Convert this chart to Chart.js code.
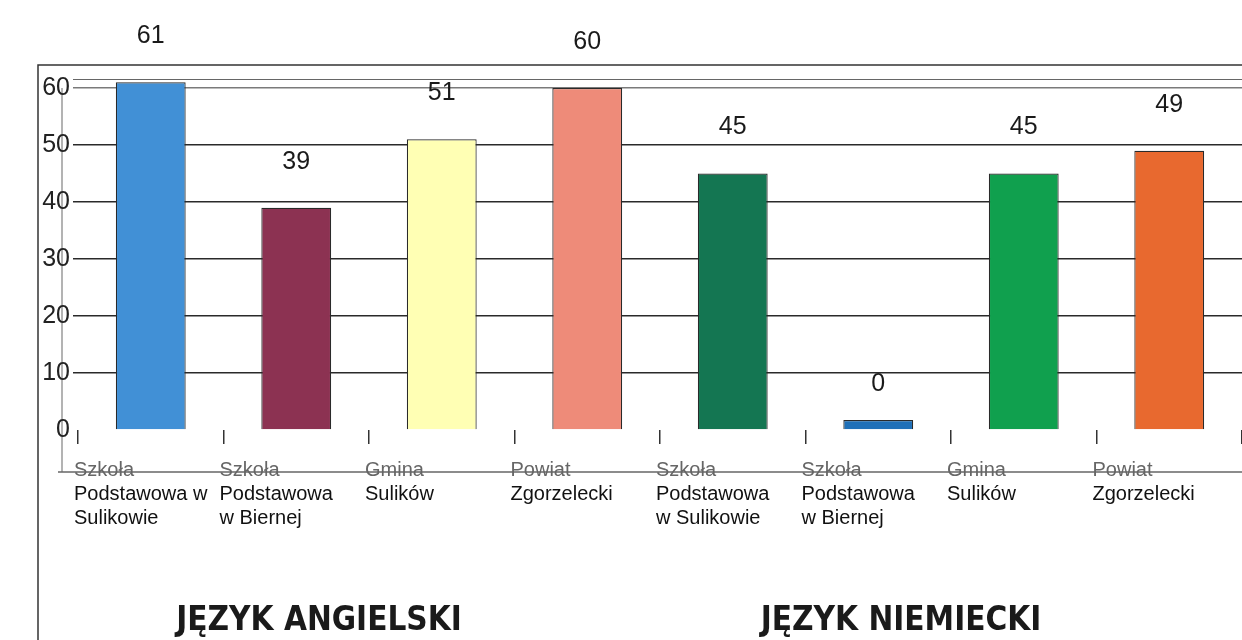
<!DOCTYPE html>
<html>
<head>
<meta charset="utf-8">
<script src="https://cdn.jsdelivr.net/npm/chart.js@4.4.1/dist/chart.umd.min.js"></script>
<style>
  html, body { margin: 0; padding: 0; background: #ffffff; }
  #wrap { width: 1242px; height: 640px; position: relative; }
</style>
</head>
<body>
<div id="wrap"><canvas id="c" width="1242" height="640"></canvas></div>
<script>
// ---- data ----
const categories = [
  ["Szkoła", "Podstawowa w", "Sulikowie"],
  ["Szkoła", "Podstawowa", "w Biernej"],
  ["Gmina", "Sulików"],
  ["Powiat", "Zgorzelecki"],
  ["Szkoła", "Podstawowa", "w Sulikowie"],
  ["Szkoła", "Podstawowa", "w Biernej"],
  ["Gmina", "Sulików"],
  ["Powiat", "Zgorzelecki"]
];
const values = [61, 39, 51, 60, 45, 0, 45, 49];
const groupTitles = ["JĘZYK ANGIELSKI", "JĘZYK NIEMIECKI"];
const groupSizes = [4, 4];
const yTicks = [0, 10, 20, 30, 40, 50, 60];

// ---- styles ----
const barColors = ["#4190d6", "#8c3252", "#ffffb4", "#ee8b79", "#147652", "#1f70b8", "#10a04e", "#e8692f"];

const decoPlugin = {
  id: 'deco',
  beforeDraw(chart) {
    const ctx = chart.ctx;
    const a = chart.chartArea;
    ctx.save();
    // outer frame
    ctx.strokeStyle = '#333';
    ctx.lineWidth = 1.5;
    ctx.beginPath();
    ctx.moveTo(38, 645);
    ctx.lineTo(38, 65);
    ctx.lineTo(1242, 65);
    ctx.stroke();
    // plot top line
    ctx.strokeStyle = '#666';
    ctx.lineWidth = 1.2;
    ctx.beginPath();
    ctx.moveTo(a.left - 5, a.top);
    ctx.lineTo(a.right, a.top);
    ctx.stroke();
    // light vertical axis line through tick labels
    ctx.strokeStyle = '#9a9a9a';
    ctx.lineWidth = 1.5;
    ctx.beginPath();
    ctx.moveTo(a.left - 16, chart.scales.y.getPixelForValue(60));
    ctx.lineTo(a.left - 16, 472);
    ctx.stroke();
    ctx.restore();
  },
  afterDatasetsDraw(chart) {
    const ctx = chart.ctx;
    const meta = chart.getDatasetMeta(0);
    const xs = chart.scales.x;
    const a = chart.chartArea;
    ctx.save();
    // value labels
    ctx.fillStyle = '#1a1a1a';
    ctx.font = '25px "Liberation Sans", Arial, sans-serif';
    ctx.textAlign = 'center';
    ctx.textBaseline = 'middle';
    meta.data.forEach((bar, i) => {
      const vy = chart.scales.y.getPixelForValue(values[i]);
      ctx.fillText(String(values[i]), bar.x, vy - 46);
    });
    // category labels
    const catW = (a.right - a.left) / categories.length;
    ctx.textAlign = 'left';
    ctx.font = '20px "Liberation Sans", Arial, sans-serif';
    categories.forEach((lines, i) => {
      const x0 = xs.getPixelForValue(i) - catW / 2 - 4;
      lines.forEach((ln, j) => {
        ctx.fillStyle = j === 0 ? '#666' : '#111';
        ctx.fillText(ln, x0, 470 + j * 24);
      });
    });
    // x axis line (through first label line)
    ctx.strokeStyle = '#666';
    ctx.lineWidth = 1.5;
    ctx.beginPath();
    ctx.moveTo(a.left - 20, 472);
    ctx.lineTo(1242, 472);
    ctx.stroke();
    // group titles
    ctx.fillStyle = '#1a1a1a';
    ctx.font = 'bold 33px "DejaVu Sans Condensed", "DejaVu Sans", sans-serif';
    ctx.textAlign = 'center';
    ctx.textBaseline = 'alphabetic';
    let start = 0;
    groupTitles.forEach((t, g) => {
      const first = xs.getPixelForValue(start);
      const last = xs.getPixelForValue(start + groupSizes[g] - 1);
      ctx.fillText(t, (first + last) / 2 - 50, 630);
      start += groupSizes[g];
    });
    ctx.restore();
  }
};

new Chart(document.getElementById('c'), {
  type: 'bar',
  data: {
    labels: categories,
    datasets: [{
      data: values,
      backgroundColor: barColors,
      borderColor: '#2a2a2a',
      borderWidth: 1.2,
      barPercentage: 0.48,
      categoryPercentage: 1.0,
      minBarLength: 10,
      clip: false
    }]
  },
  options: {
    responsive: false,
    animation: false,
    devicePixelRatio: 1,
    layout: { padding: { top: 79.5, right: 0, bottom: 0, left: 0 } },
    plugins: { legend: { display: false }, tooltip: { enabled: false }, title: { display: false } },
    scales: {
      x: {
        type: 'category',
        offset: true,
        border: { display: false },
        grid: {
          display: true,
          offset: true,
          drawOnChartArea: false,
          drawTicks: true,
          tickLength: 14,
          color: '#333',
          lineWidth: 1.5
        },
        ticks: { display: false },
        afterFit(scale) { scale.height = 210; }
      },
      y: {
        min: 0,
        max: 61.5,
        border: { display: false },
        afterBuildTicks(scale) { scale.ticks = yTicks.map(v => ({ value: v })); },
        grid: {
          drawTicks: true,
          tickLength: 5,
          lineWidth: 1.5,
          color: (c) => c.tick && c.tick.value === 0 ? 'rgba(0,0,0,0)' : (c.tick && c.tick.value === 60 ? '#7a7a7a' : '#2a2a2a')
        },
        ticks: {
          padding: 3,
          color: '#222',
          font: { family: '"Liberation Sans", Arial, sans-serif', size: 25 },
          callback: (v) => String(v)
        },
        afterFit(scale) { scale.width = 78; }
      }
    }
  },
  plugins: [decoPlugin]
});
</script>
</body>
</html>
